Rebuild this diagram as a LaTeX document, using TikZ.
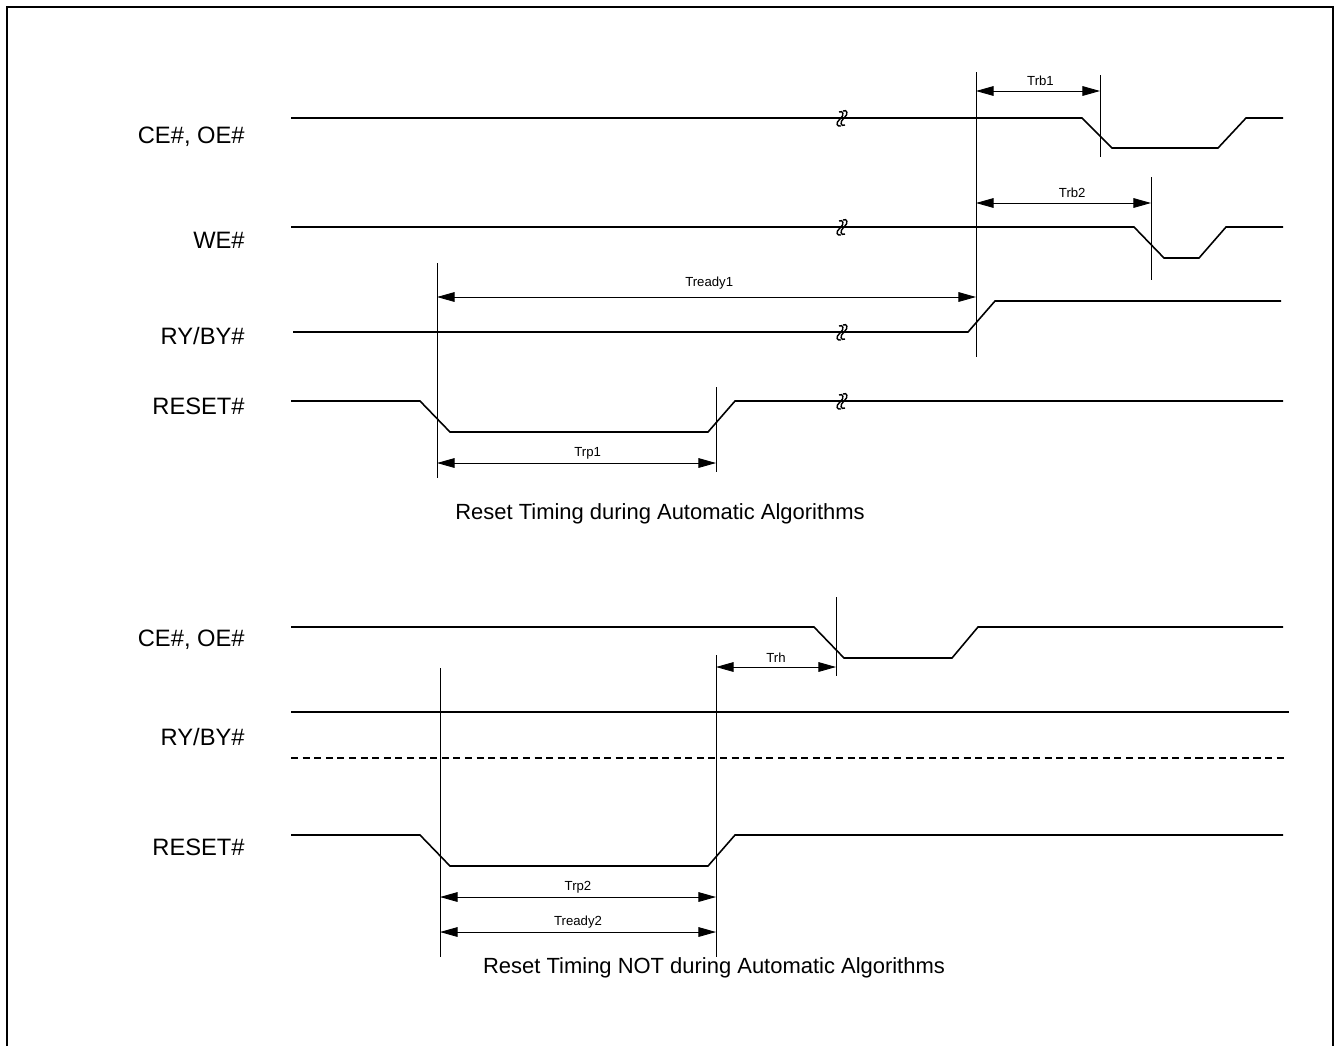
\documentclass[tikz,border=0pt]{standalone}
\usepackage{fontspec}
\setmainfont{Liberation Sans}
\usetikzlibrary{arrows.meta}

\tikzset{
  sig/.style={line width=0.9pt, line join=miter},
  tick/.style={line width=0.5pt},
  dimarrow/.style={{Triangle[length=10pt,width=5.5pt]}-{Triangle[length=10pt,width=5.5pt]}, line width=0.5pt},
  lbl/.style={font=\fontsize{13.5}{15}\selectfont, anchor=east, inner sep=0pt},
  tlbl/.style={font=\fontsize{7.5}{9}\selectfont, anchor=base, inner sep=0pt},
  captxt/.style={font=\fontsize{12.5}{15}\selectfont, inner sep=0pt},
  brk/.pic={
    \draw[line width=0.8pt] (0,-7) .. controls (4,-9) and (6,-4) .. (1,0) .. controls (-4,4) and (-2,9) .. (2,7);
    \draw[line width=0.8pt] (-4,-6) .. controls (0,-8) and (2,-3) .. (-3,1) .. controls (-8,5) and (-6,9) .. (-2,8);
  }
}

\begin{document}
\begin{tikzpicture}[x=0.02cm, y=-0.02cm]
    \useasboundingbox (0,0) rectangle (1338,1046);
    \draw[line width=1.4pt] (7,1046) -- (7,7) -- (1333,7) -- (1333,1046);

    % automatic algorithms
    \node[lbl] (ce1) at (245,137) {CE\#, OE\#};
    \node[lbl] (we1) at (245,240) {WE\#};
    \node[lbl] (ry1) at (245,336) {RY/BY\#};
    \node[lbl] (rst1) at (245,406) {RESET\#};

    \draw[sig] (291,118) -- (1082,118) -- (1112,148) -- (1218,148) -- (1246,118) -- (1283,118);
    \draw[sig] (291,227) -- (1134,227) -- (1164,258) -- (1199,258) -- (1226,227) -- (1283,227);
    \draw[sig] (293,332) -- (968,332) -- (995,301) -- (1281,301);
    \draw[sig] (291,401) -- (420,401) -- (450,432) -- (708,432) -- (735,401) -- (1283,401);
    \foreach \y in {118,227,332,401}
        \pic at (843,\y) {brk};

    \draw[tick] (437,263) -- (437,478);
    \draw[tick] (716,387) -- (716,472);
    \draw[tick] (976,72) -- (976,357);
    \draw[tick] (1100,75) -- (1100,157);
    \draw[tick] (1151,177) -- (1151,280);

    \draw[dimarrow] (437,297) -- (976,297) node[tlbl, pos=0.505, yshift=6pt] (tready1) {Tready1};
    \draw[dimarrow] (976,91) -- (1100,91) node[tlbl, pos=0.52, yshift=3pt] (trb1) {Trb1};
    \draw[dimarrow] (976,203) -- (1151,203) node[tlbl, pos=0.55, yshift=3pt] (trb2) {Trb2};
    \draw[dimarrow] (437,463) -- (716,463) node[tlbl, pos=0.54, yshift=3.5pt] (trp1) {Trp1};

    \node[captxt] (cap1) at (660,514) {Reset Timing during Automatic Algorithms};

    % not during automatic algorithms
    \node[lbl] (ce2) at (245,640) {CE\#, OE\#};
    \node[lbl] (ry2) at (245,737) {RY/BY\#};
    \node[lbl] (rst2) at (245,847) {RESET\#};

    \draw[sig] (291,627) -- (814,627) -- (844,658) -- (952,658) -- (978,627) -- (1283,627);
    \draw[sig] (291,712) -- (1289,712);
    \draw[sig, dash pattern=on 4pt off 2.6pt] (291,758) -- (1285,758);
    \draw[sig] (291,835) -- (420,835) -- (450,866) -- (708,866) -- (735,835) -- (1283,835);

    \draw[tick] (836,597) -- (836,676);
    \draw[tick] (716,655) -- (716,957);
    \draw[tick] (440,668) -- (440,957);

    \draw[dimarrow] (716,667) -- (836,667) node[tlbl, midway, yshift=2.5pt] (trh) {Trh};
    \draw[dimarrow] (440,897) -- (716,897) node[tlbl, midway, yshift=3.5pt] (trp2) {Trp2};
    \draw[dimarrow] (440,932) -- (716,932) node[tlbl, midway, yshift=3.5pt] (tready2) {Tready2};

    \node[captxt] (cap2) at (714,968) {Reset Timing NOT during Automatic Algorithms};
\end{tikzpicture}
\end{document}
